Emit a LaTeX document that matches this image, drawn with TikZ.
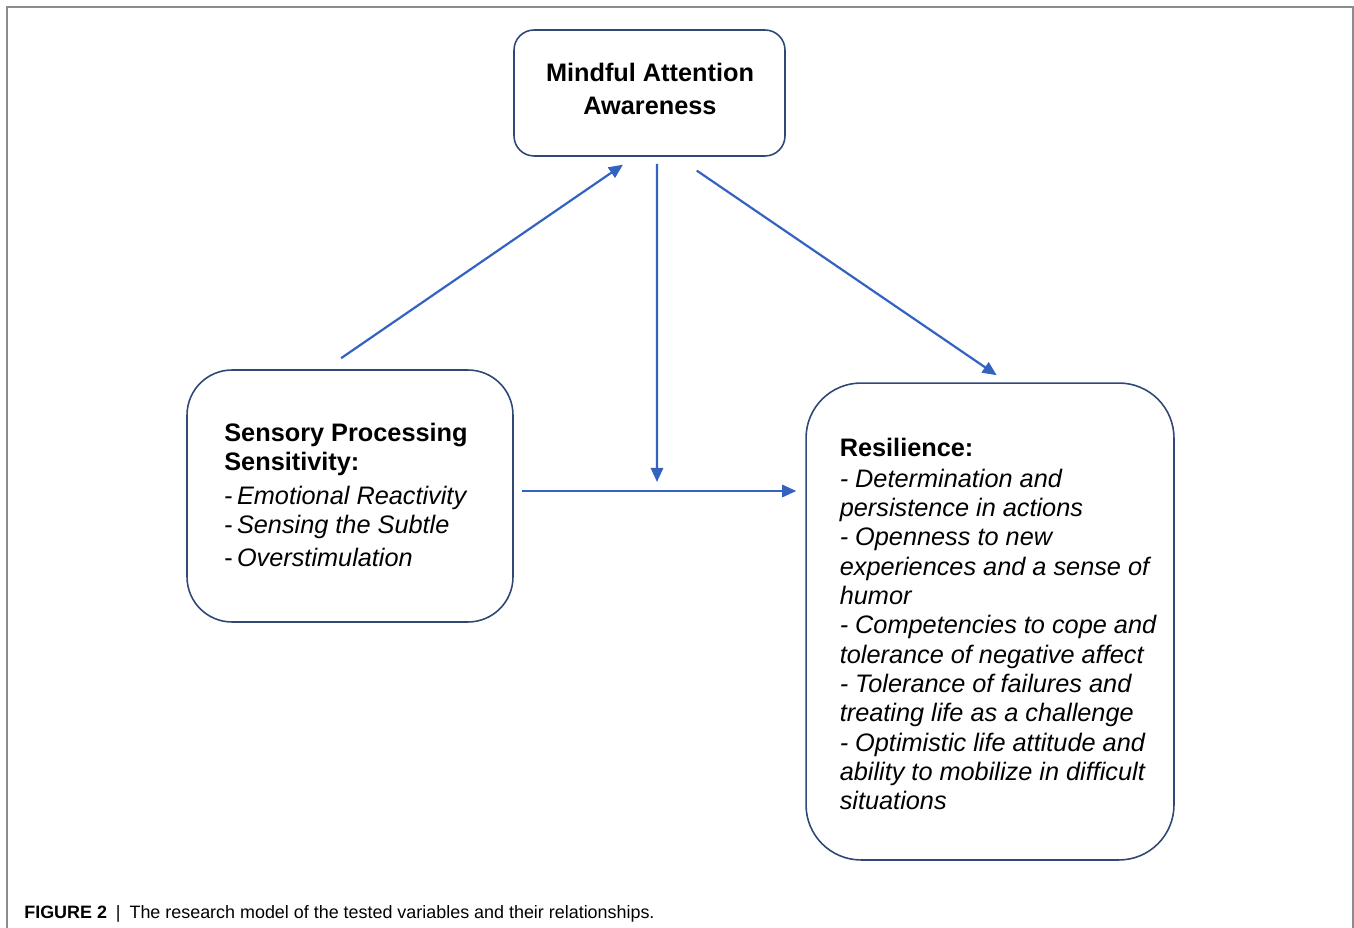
\documentclass[tikz,border=0pt]{standalone}
\usepackage{fontspec}
\setmainfont{Liberation Sans}
\usetikzlibrary{arrows.meta}
\definecolor{boxline}{RGB}{47,72,118}
\definecolor{arrowblue}{RGB}{52,98,192}
\definecolor{framegray}{RGB}{140,140,140}
\begin{document}
\begin{tikzpicture}[x=0.02cm,y=-0.02cm,
  varbox/.style={draw=boxline, line width=0.9pt, inner sep=0pt},
  vartext/.style={align=left, inner sep=0pt, font=\fontsize{14.4}{16.7}\selectfont},
  link/.style={draw=arrowblue, line width=1.25pt, -{Triangle[length=8pt,width=7pt]}}]
\useasboundingbox (0,0) rectangle (1354,928);
\draw[framegray, line width=0.8pt] (7,928) -- (7,7) -- (1353,7) -- (1353,928);

\node[varbox, rounded corners=0.4cm, minimum width=5.42cm, minimum height=2.52cm] (maa) at (649.5,93) {};
\node[vartext, align=center, font=\fontsize{14.4}{18.8}\selectfont] (maatext) at (650,89)
  {\textbf{Mindful Attention}\\\textbf{Awareness}};

\node[varbox, rounded corners=0.9cm, minimum width=6.52cm, minimum height=5.04cm] (sps) at (350,496) {};
\node[vartext, font=\fontsize{14.4}{16.5}\selectfont] (spstext) at (346,495)
  {\textbf{Sensory Processing}\\\textbf{Sensitivity:}\\[2.8pt]
   -\,\textit{Emotional Reactivity}\\
   -\,\textit{Sensing the Subtle}\\[2.8pt]
   -\,\textit{Overstimulation}};

\node[varbox, rounded corners=1.1cm, minimum width=7.36cm, minimum height=9.54cm] (res) at (990,621.5) {};
\node[vartext] (restext) at (998,624)
  {\textbf{Resilience:}\\[1pt]
   \itshape - Determination and\\
   \itshape persistence in actions\\
   \itshape - Openness to new\\
   \itshape experiences and a sense of\\
   \itshape humor\\
   \itshape - Competencies to cope and\\
   \itshape tolerance of negative affect\\
   \itshape - Tolerance of failures and\\
   \itshape treating life as a challenge\\
   \itshape - Optimistic life attitude and\\
   \itshape ability to mobilize in difficult\\
   \itshape situations};

\coordinate (join) at (657,491);
\draw[link, shorten <=0.39cm, shorten >=0.28cm] ([xshift=-0.5cm]sps.north) -- ([xshift=-0.3cm]maa.south);
\draw[link, shorten <=0.14cm, shorten >=0.18cm] ([xshift=0.15cm]maa.south) -- (join);
\draw[link, shorten <=0.49cm, shorten >=0.25cm] ([xshift=0.54cm]maa.south) -- ([xshift=0.34cm]res.north);
\draw[link, shorten <=0.16cm, shorten >=0.18cm] (join -| sps.east) -- (join -| res.west);

\node[anchor=base west, inner sep=0pt, font=\fontsize{10.2}{12}\selectfont] (cap) at (24,918)
  {\textbf{FIGURE 2}\enspace|\enspace The research model of the tested variables and their relationships.};
\end{tikzpicture}
\end{document}
